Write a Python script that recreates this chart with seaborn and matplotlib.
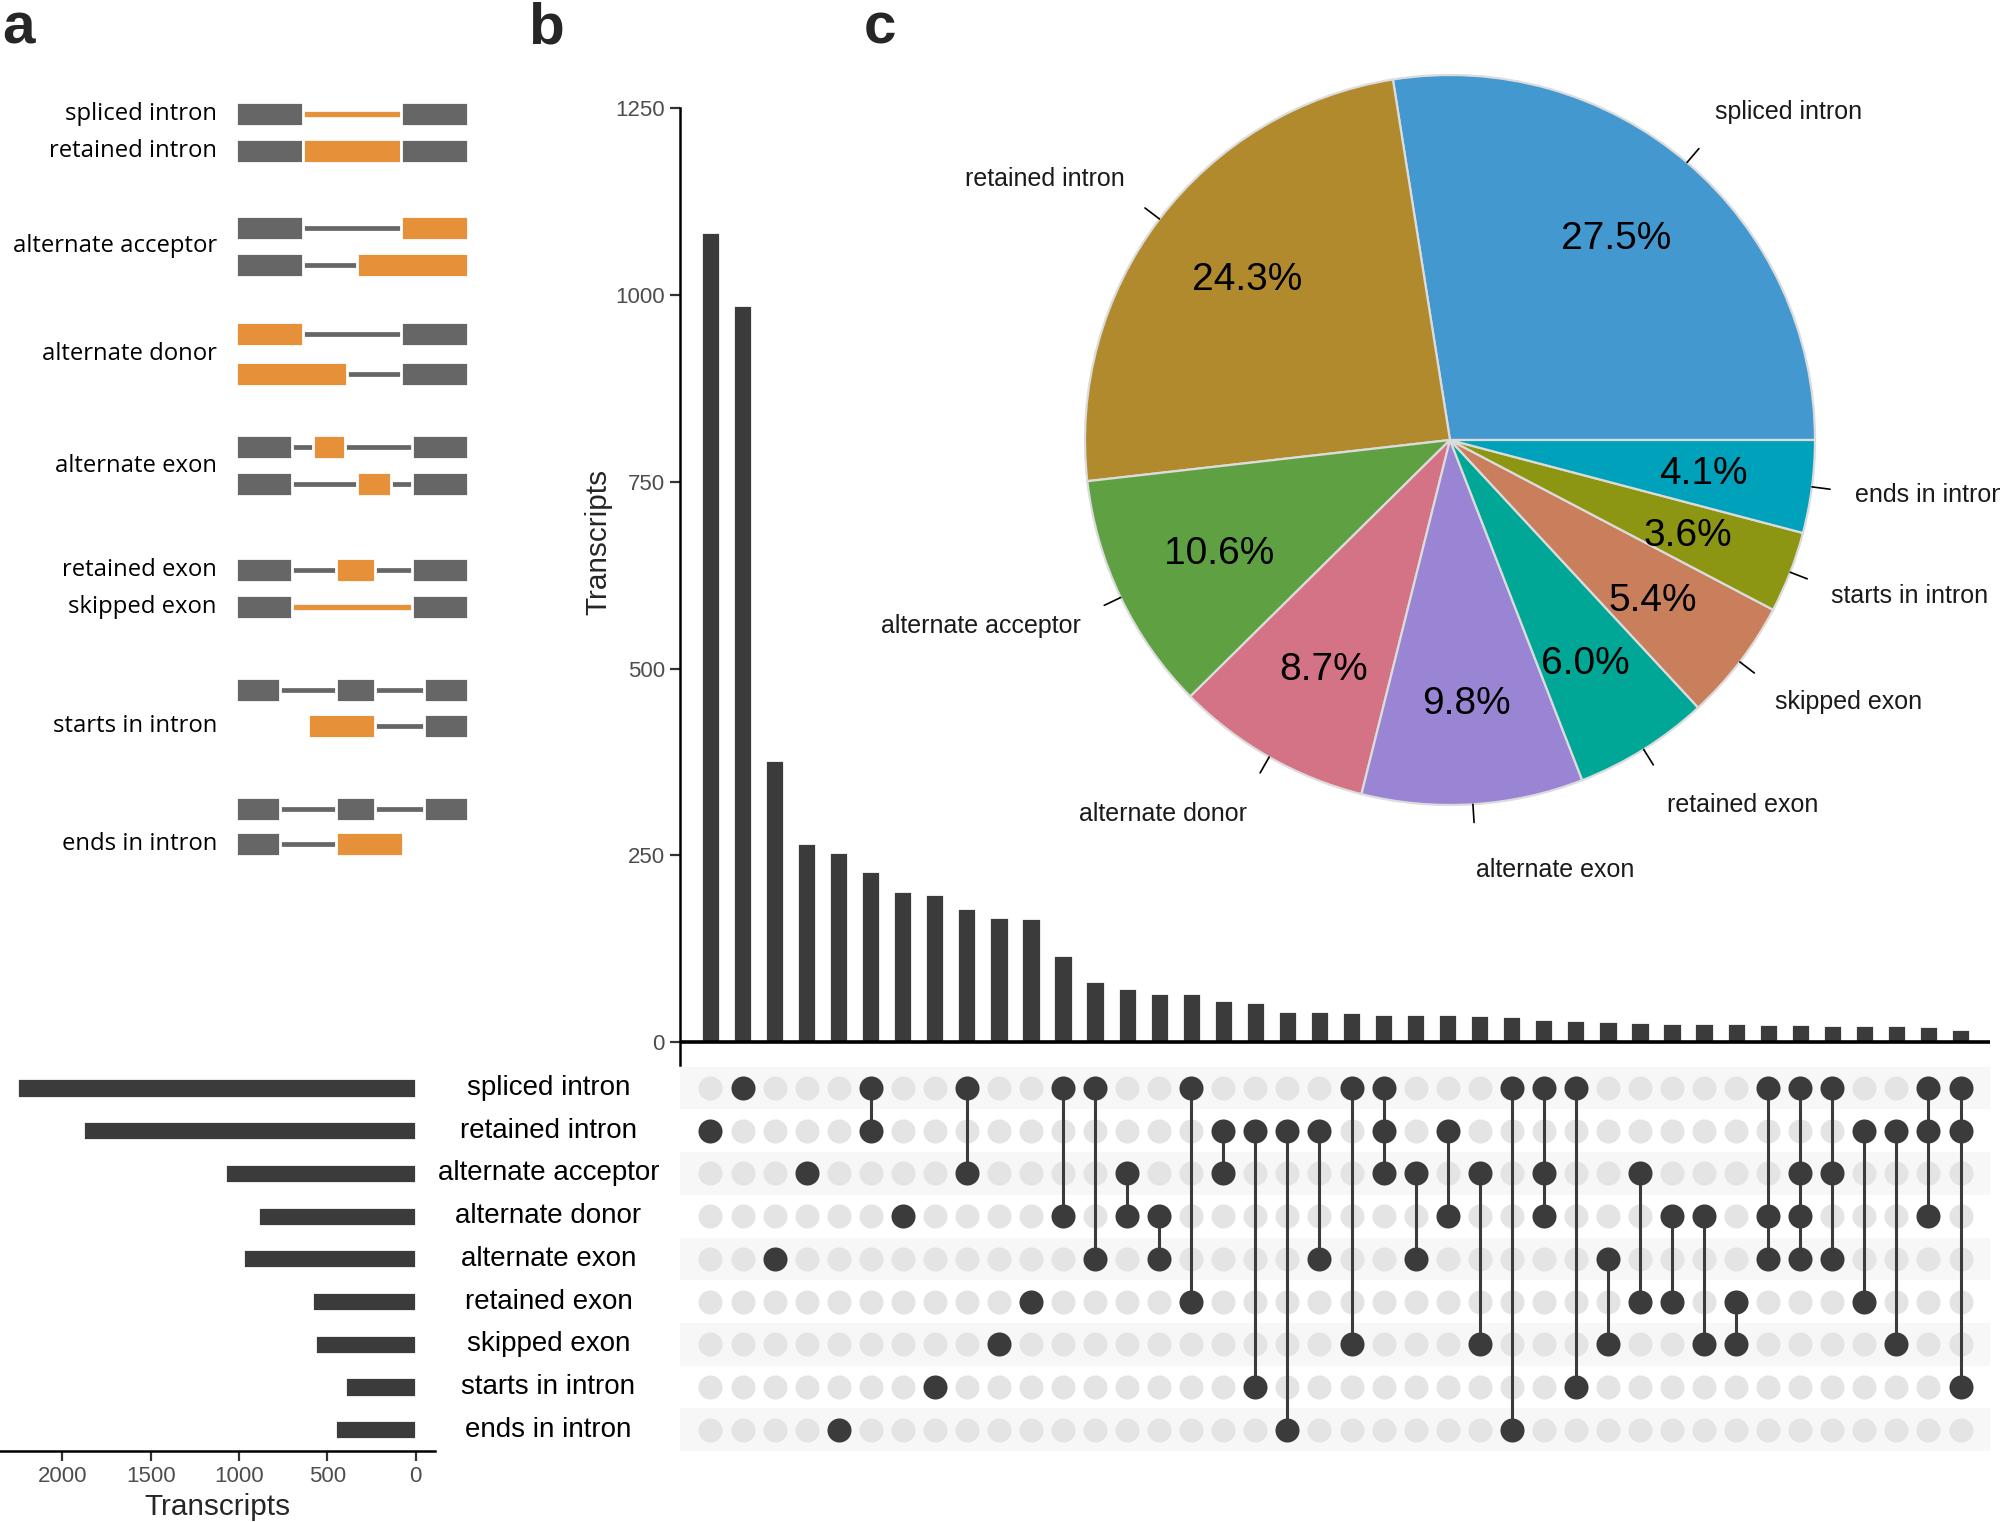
import numpy as np
import pandas as pd
import seaborn as sns
import matplotlib.pyplot as plt

sns.set_style('white')
plt.rcParams['font.family'] = ['Liberation Sans', 'DejaVu Sans']

W, H = 2000, 1522
DARK = '#3b3b3b'
LIGHT = '#e4e4e4'
GREY = '#4d4d4d'
EXON_GREY = '#666666'
ORANGE = '#e6913a'

# ---------------------------------------------------------------- data
categories = ['spliced intron', 'retained intron', 'alternate acceptor',
              'alternate donor', 'alternate exon', 'retained exon',
              'skipped exon', 'starts in intron', 'ends in intron']
codes = ['SI', 'RI', 'AA', 'AD', 'AE', 'RE', 'SE', 'ST', 'EN']

# set sizes (left bars)
set_sizes = [2255, 1885, 1081, 892, 980, 585, 568, 400, 455]

# intersection sizes (top bars), sorted
intersection_counts = [1084, 987, 377, 267, 254, 229, 202, 198, 179, 167,
                       166, 117, 81, 72, 65, 65, 56, 54, 42, 41,
                       40, 38, 38, 37, 36, 35, 31, 29, 28, 27,
                       26, 26, 25, 24, 24, 23, 23, 23, 21, 18]

# members of each intersection
intersections = [
    ['RI'], ['SI'], ['AE'], ['AA'], ['EN'], ['SI', 'RI'], ['AD'], ['ST'],
    ['SI', 'AA'], ['SE'], ['RE'], ['SI', 'AD'], ['SI', 'AE'], ['AA', 'AD'],
    ['AD', 'AE'], ['SI', 'RE'], ['RI', 'AA'], ['RI', 'ST'], ['RI', 'EN'],
    ['RI', 'AE'], ['SI', 'SE'], ['SI', 'RI', 'AA'], ['AA', 'AE'], ['RI', 'AD'],
    ['AA', 'SE'], ['SI', 'EN'], ['SI', 'AA', 'AD'], ['SI', 'ST'], ['AE', 'SE'],
    ['AA', 'RE'], ['AD', 'RE'], ['AD', 'SE'], ['RE', 'SE'], ['SI', 'AD', 'AE'],
    ['SI', 'AA', 'AD', 'AE'], ['SI', 'AA', 'AE'], ['RI', 'RE'], ['RI', 'SE'],
    ['SI', 'RI', 'AD'], ['SI', 'RI', 'ST'],
]

# pie shares (%)
pie_values = [27.5, 24.3, 10.6, 8.7, 9.8, 6.0, 5.4, 3.6, 4.1]
pie_colors = ['#4398cf', '#b08a2d', '#5fa142', '#d47385', '#9a85d4',
              '#00a796', '#c97e5c', '#8c9613', '#00a2bb']

# panel a: schematic transcripts, exons as (start, end, highlighted)
tracks = [
    [(0, 29, 0), (71, 100, 0)],
    [(0, 29, 0), (29, 71, 1), (71, 100, 0)],
    [(0, 29, 0), (71, 100, 1)],
    [(0, 29, 0), (52, 100, 1)],
    [(0, 29, 1), (71, 100, 0)],
    [(0, 48, 1), (71, 100, 0)],
    [(0, 24, 0), (33, 47, 1), (76, 100, 0)],
    [(0, 24, 0), (52, 67, 1), (76, 100, 0)],
    [(0, 24, 0), (43, 60, 1), (76, 100, 0)],
    [(0, 24, 0), (76, 100, 0)],
    [(0, 19, 0), (43, 60, 0), (81, 100, 0)],
    [(31, 60, 1), (81, 100, 0)],
    [(0, 19, 0), (43, 60, 0), (81, 100, 0)],
    [(0, 19, 0), (43, 72, 1)],
]
track_intron_hl = [1, 0, 0, 0, 0, 0, 0, 0, 0, 1, 0, 0, 0, 0]
track_y = [114, 151, 228, 265, 334, 374, 447, 484, 570, 607, 690, 726, 809, 844]
label_y = [114, 151, 246, 354, 466, 570, 607, 726, 844]

# ---------------------------------------------------------------- figure
fig = plt.figure(figsize=(W / 200, H / 200), dpi=200)


def px_axes(x0, y0, x1, y1):
    return fig.add_axes([x0 / W, 1 - y1 / H, (x1 - x0) / W, (y1 - y0) / H])


ax_a = px_axes(0, 0, 500, 900)
ax_b = px_axes(680, 108.4, 1990, 1065)
ax_m = px_axes(680, 1066.7, 1990, 1451)
ax_l = px_axes(0, 1066.7, 435, 1451)
ax_c = px_axes(902.5, 2, 1997.5, 987.5)

XLIM = (-0.95, 39.92)

# ---- panel a
for exons, hl, y in zip(tracks, track_intron_hl, track_y):
    for (s0, e0, _), (s1, e1, _) in zip(exons[:-1], exons[1:]):
        if s1 > e0:
            ax_a.hlines(y, e0, s1, color=ORANGE if hl else EXON_GREY,
                        lw=1.9 if hl else 1.7, zorder=1)
    for s, e, h in exons:
        ax_a.broken_barh([(s, e - s)], (y - 12, 24),
                         facecolors=ORANGE if h else EXON_GREY, zorder=2)
for lab, y in zip(categories, label_y):
    ax_a.text(-8.2, y, lab, ha='right', va='center', fontsize=8.6,
              family=['Open Sans', 'DejaVu Sans'], color='black')
ax_a.set_xlim(-101.7, 113.8)
ax_a.set_ylim(900, 0)
ax_a.axis('off')

# ---- panel b: intersection bars
sns.barplot(x=np.arange(len(intersection_counts)), y=intersection_counts,
            color=DARK, saturation=1, width=0.6, ax=ax_b)
ax_b.set_xlim(*XLIM)
ax_b.set_ylim(-30.8, 1250)
ax_b.set_yticks([0, 250, 500, 750, 1000, 1250])
ax_b.set_xticks([])
ax_b.set_xlabel('')
ax_b.set_ylabel('Transcripts', fontsize=10.7)
ax_b.yaxis.set_label_coords(-0.052, 0.547)
ax_b.tick_params(axis='y', direction='out', length=3.5, width=0.8,
                 color='#333333', labelcolor=GREY, labelsize=8, pad=2, left=True)
for side in ['top', 'right', 'bottom']:
    ax_b.spines[side].set_visible(False)
ax_b.spines['left'].set_linewidth(0.9)
ax_b.spines['left'].set_color('black')
ax_b.axhline(0, color='black', lw=1.3)

# ---- matrix
mat = pd.DataFrame([{'col': j, 'row': i, 'member': c in members}
                    for j, members in enumerate(intersections)
                    for i, c in enumerate(codes)])
for i in range(0, len(categories), 2):
    ax_m.axhspan(i - 0.5, i + 0.5, color='#f7f7f7', zorder=0, lw=0)
sns.scatterplot(data=mat[~mat['member']], x='col', y='row', color=LIGHT,
                s=75, linewidth=0, legend=False, ax=ax_m, zorder=1)
filled = mat[mat['member']]
span = filled.groupby('col')['row'].agg(['min', 'max'])
ax_m.vlines(span.index, span['min'], span['max'], color=DARK, lw=1.1, zorder=2)
sns.scatterplot(data=filled, x='col', y='row', color=DARK,
                s=75, linewidth=0, legend=False, ax=ax_m, zorder=3)
ax_m.set_xlim(*XLIM)
ax_m.set_ylim(len(categories) - 0.5, -0.5)
ax_m.set_xticks([])
ax_m.set_yticks([])
ax_m.set_xlabel('')
ax_m.set_ylabel('')
for sp in ax_m.spines.values():
    sp.set_visible(False)
for i, lab in enumerate(categories):
    ax_m.text(-0.1004, i, lab, transform=ax_m.get_yaxis_transform(),
              ha='center', va='center', fontsize=10, color='black')

# ---- set size bars
sns.barplot(x=set_sizes, y=categories, orient='h', color=DARK,
            saturation=1, width=0.45, ax=ax_l)
ax_l.set_xlim(2353, -108.7)
ax_l.set_ylim(len(categories) - 0.5, -0.5)
ax_l.set_yticks([])
ax_l.set_ylabel('')
ax_l.set_xticks([2000, 1500, 1000, 500, 0])
ax_l.set_xlabel('Transcripts', fontsize=10.7, labelpad=2)
ax_l.tick_params(axis='x', direction='out', length=3.5, width=0.8,
                 color='#333333', labelcolor=GREY, labelsize=8, pad=2, bottom=True)
for side in ['top', 'right', 'left']:
    ax_l.spines[side].set_visible(False)
ax_l.spines['bottom'].set_linewidth(0.9)
ax_l.spines['bottom'].set_color('black')

# ---- panel c: pie
wedges, _, autotexts = ax_c.pie(
    pie_values, colors=pie_colors, autopct='%1.1f%%',
    startangle=0, counterclock=True,
    wedgeprops=dict(edgecolor='#dcdcdc', linewidth=0.8))
mids = np.deg2rad((np.cumsum(pie_values) - np.array(pie_values) / 2) / sum(pie_values) * 360)
for a, lab, t in zip(mids, categories, autotexts):
    t.set_position((0.70 * np.cos(a), 0.725 * np.sin(a)))
    t.set_fontsize(14)
    t.set_color('black')
    ax_c.plot([np.cos(a), 1.05 * np.cos(a)], [np.sin(a), 1.05 * np.sin(a)],
              color='black', lw=0.6)
    ax_c.text(1.12 * np.cos(a), 1.18 * np.sin(a), lab, fontsize=9,
              color='#1a1a1a', va='center',
              ha='left' if np.cos(a) > 0 else 'right')
ax_c.set_xlim(-1.5, 1.5)
ax_c.set_ylim(-1.5, 1.2)
ax_c.axis('off')

# ---- panel letters
for x, letter in [(2, 'a'), (528, 'b'), (864, 'c')]:
    fig.text(x / W, 1 - 2 / H, letter, fontsize=21, fontweight='bold',
             ha='left', va='top')

fig.savefig('out.png', dpi=200)
